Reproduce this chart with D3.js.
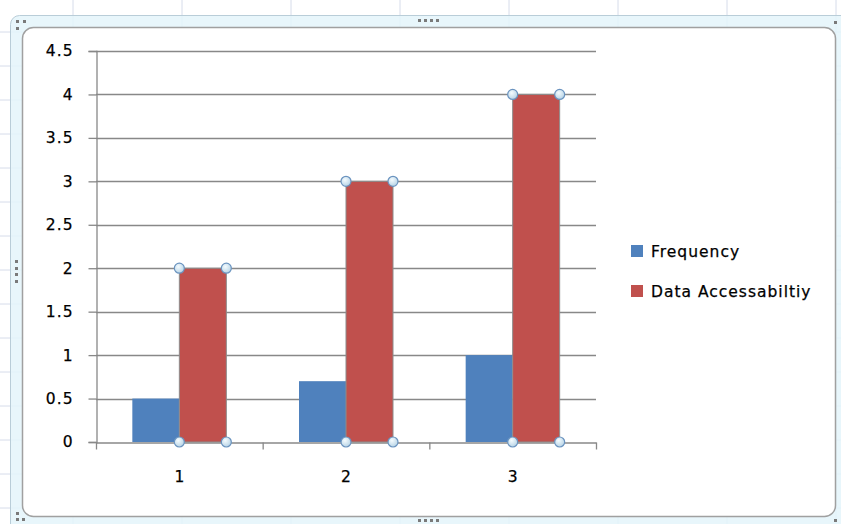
<!DOCTYPE html>
<html><head><meta charset="utf-8">
<script src="https://cdn.jsdelivr.net/npm/d3@7"></script>
<style>html,body{margin:0;padding:0;background:#fff;overflow:hidden}</style>
</head><body>
<svg id="c" width="841" height="524"></svg>
<script>
const categories = ["1", "2", "3"];
const seriesNames = ["Frequency", "Data Accessabiltiy"];
const frequency = [0.5, 0.7, 1];
const dataAccessability = [2, 3, 4];
const yTicks = [0, 0.5, 1, 1.5, 2, 2.5, 3, 3.5, 4, 4.5];
const colors = ["#4F81BD", "#C0504D"];

const svg = d3.select("#c");
const font = "'DejaVu Sans', sans-serif";
const fs = 15.5, ls = 1;

// spreadsheet background grid
const bg = svg.append("g");
d3.range(73, 841, 109).forEach(x => bg.append("line").attr("x1", x).attr("x2", x).attr("y1", 0).attr("y2", 524).attr("stroke", "#d6dcea"));
d3.range(32, 524, 34).forEach(y => bg.append("line").attr("x1", 0).attr("x2", 841).attr("y1", y).attr("y2", y).attr("stroke", "#d6dcea"));

// selection frame
svg.append("rect").attr("x", 10.5).attr("y", 15.5).attr("width", 840).attr("height", 520).attr("rx", 9)
  .attr("fill", "#e4f4fa").attr("fill-opacity", 0.85).attr("stroke", "#b9cdd8");
svg.append("rect").attr("x", 22.5).attr("y", 27.5).attr("width", 813).attr("height", 489).attr("rx", 11)
  .attr("fill", "#fff").attr("stroke", "#a0a0a0").attr("stroke-width", 1.5);
// handle dots
const dots = [[16,20],[23,20],[16,27],[418,19],[424,19],[430,19],[436,19],[418,519],[424,519],[430,519],[436,519],
  [15,260],[15,267],[15,273],[15,280],[834,21],[834,519],[16,518],[16,512],[22,518]];
svg.append("g").selectAll("rect").data(dots).join("rect")
  .attr("x", d => d[0]).attr("y", d => d[1]).attr("width", 3).attr("height", 3).attr("fill", "#7a7a7a");

// scales
const y = d3.scaleLinear().domain([0, 4.5]).range([442, 51]);
const x0 = d3.scaleBand().domain(categories).range([96, 596]).paddingInner(0.436).paddingOuter(0.218);
const x1 = d3.scaleBand().domain(seriesNames).range([0, x0.bandwidth()]);
const axisColor = "#888888";

// gridlines
svg.append("g").selectAll("line").data(yTicks.filter(t => t > 0)).join("line")
  .attr("x1", 96).attr("x2", 596).attr("y1", d => Math.round(y(d)) + 0.5).attr("y2", d => Math.round(y(d)) + 0.5)
  .attr("stroke", axisColor).attr("stroke-width", 1.3);

// y axis
const ya = svg.append("g").attr("transform", "translate(96.5,0)")
  .call(d3.axisLeft(y).tickValues(yTicks).tickSize(8).tickPadding(15).tickFormat(d3.format("")));
ya.select(".domain").attr("stroke", axisColor).attr("stroke-width", 1.3);
ya.selectAll(".tick line").attr("stroke", axisColor).attr("stroke-width", 1.3);
ya.selectAll(".tick text").attr("font-family", font).attr("font-size", fs).attr("letter-spacing", ls)
  .attr("fill", "#000").attr("stroke", "#000").attr("stroke-width", 0.25);

// x axis
const xa = svg.append("g").attr("transform", "translate(0,442.5)")
  .call(d3.axisBottom(x0).tickSize(0).tickPadding(28));
xa.select(".domain").attr("stroke", axisColor).attr("stroke-width", 1.3);
xa.selectAll(".tick text").attr("font-family", font).attr("font-size", fs)
  .attr("fill", "#000").attr("stroke", "#000").attr("stroke-width", 0.25);
const bounds = [96, ...categories.map(c => x0(c) + x0.bandwidth() + x0.step() * x0.paddingInner() / 2)];
xa.selectAll(".sep").data(bounds).join("line").attr("class", "sep")
  .attr("x1", d => d + 0.5).attr("x2", d => d + 0.5).attr("y1", 0).attr("y2", 7)
  .attr("stroke", axisColor).attr("stroke-width", 1.3);

// bars
const rows = categories.map((c, i) => ({c, vals: [frequency[i], dataAccessability[i]]}));
const g = svg.append("g").selectAll("g").data(rows).join("g").attr("transform", d => `translate(${x0(d.c)},0)`);
g.selectAll("rect").data(d => d.vals.map((v, j) => ({v, j}))).join("rect")
  .attr("x", d => x1(seriesNames[d.j])).attr("width", x1.bandwidth())
  .attr("y", d => y(d.v)).attr("height", d => y(0) - y(d.v))
  .attr("fill", d => colors[d.j])
  .attr("stroke", d => d.j === 1 ? "#8c8c8c" : "none").attr("stroke-width", 1);

// selection handles on series 2
const defs = svg.append("defs");
const grad = defs.append("radialGradient").attr("id", "hg").attr("cx", "40%").attr("cy", "35%").attr("r", "65%");
grad.append("stop").attr("offset", "0%").attr("stop-color", "#f4fbfe");
grad.append("stop").attr("offset", "100%").attr("stop-color", "#b8d4e6");
const handles = [];
rows.forEach(r => {
  const xl = x0(r.c) + x1(seriesNames[1]), xr = xl + x1.bandwidth();
  [[xl, y(r.vals[1])], [xr, y(r.vals[1])], [xl, y(0)], [xr, y(0)]].forEach(p => handles.push(p));
});
svg.append("g").selectAll("circle").data(handles).join("circle")
  .attr("cx", d => d[0]).attr("cy", d => d[1]).attr("r", 5)
  .attr("fill", "url(#hg)").attr("stroke", "#6a93bf").attr("stroke-width", 1.2);

// legend
const lg = svg.append("g").selectAll("g").data(seriesNames).join("g")
  .attr("transform", (d, i) => `translate(631,${245 + i * 40})`);
lg.append("rect").attr("width", 12).attr("height", 12).attr("fill", (d, i) => colors[i]);
lg.append("text").attr("x", 20).attr("y", 11.5).text(d => d)
  .attr("font-family", font).attr("font-size", fs).attr("letter-spacing", ls)
  .attr("fill", "#000").attr("stroke", "#000").attr("stroke-width", 0.25);
</script>
</body></html>
